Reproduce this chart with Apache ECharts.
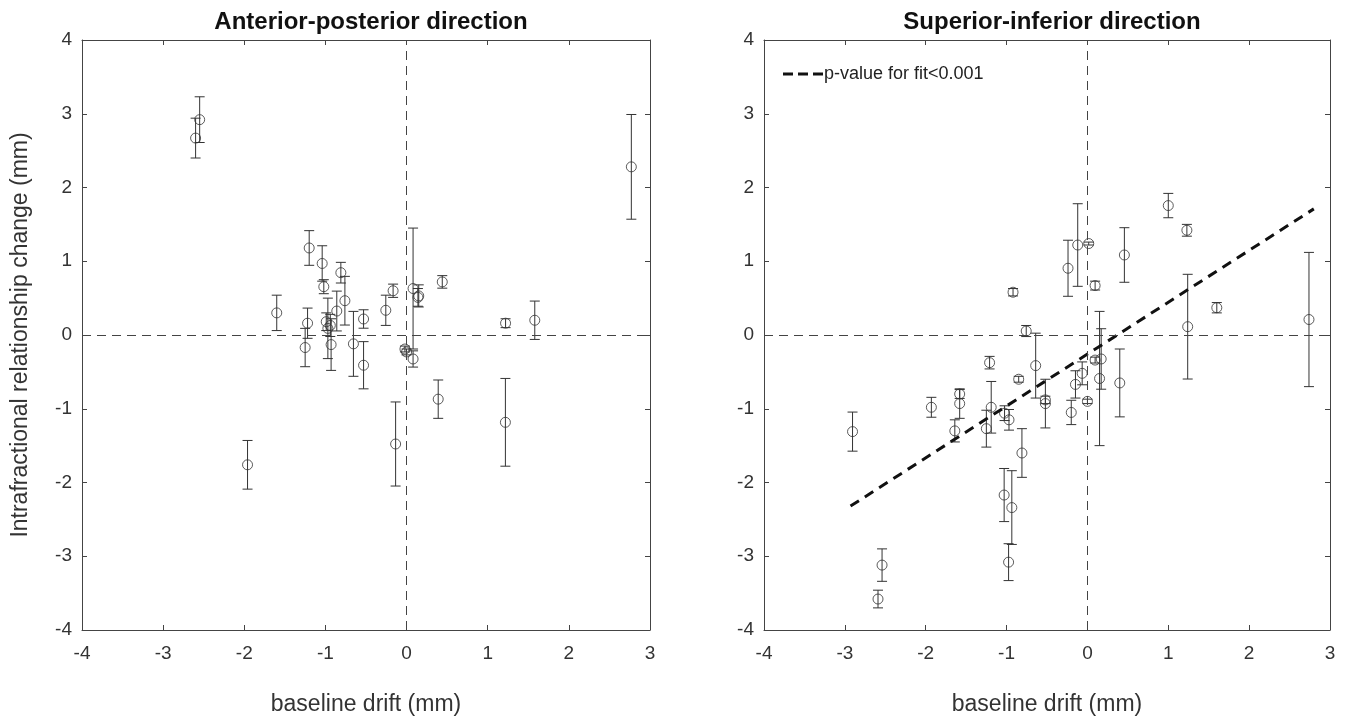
<!DOCTYPE html>
<html>
<head>
<meta charset="utf-8">
<script src="https://cdn.jsdelivr.net/npm/echarts@6/dist/echarts.min.js"></script>
<style>
  html, body { margin: 0; padding: 0; background: #fff; }
  #chart { width: 1351px; height: 725px; }
</style>
</head>
<body>
<div id="chart"></div>
<script>
// Anterior-posterior: baseline drift, relationship change, error
const apX = [-2.55, -2.60, -1.96, -1.60, -1.20, -1.04, -0.81, -1.02, -0.76, -0.86, -1.22, -1.25, -0.99, -0.97, -0.94, -0.93, -0.655, -0.53, -0.53, -0.256, -0.166, -0.135, 0.08, 0.15, 0.14, 0.44, -0.02, 0.0, 0.08, 0.39, 1.218, 1.22, 1.58, 2.77]
const apY = [2.92, 2.67, -1.76, 0.30, 1.18, 0.97, 0.845, 0.655, 0.465, 0.325, 0.16, -0.17, 0.18, 0.09, 0.13, -0.13, -0.12, 0.217, -0.41, 0.335, 0.60, -1.478, 0.63, 0.53, 0.51, 0.72, -0.19, -0.23, -0.325, -0.87, -1.184, 0.16, 0.20, 2.28]
const apErr = [0.31, 0.27, 0.33, 0.24, 0.235, 0.24, 0.14, 0.095, 0.33, 0.27, 0.205, 0.26, 0.12, 0.41, 0.15, 0.35, 0.44, 0.125, 0.32, 0.205, 0.09, 0.57, 0.82, 0.15, 0.12, 0.085, 0.04, 0.04, 0.11, 0.26, 0.595, 0.06, 0.26, 0.71]

// Superior-inferior
const siX = [-2.905, -2.54, -2.59, -1.93, -1.58, -1.58, -1.64, -1.25, -1.19, -1.21, -1.03, -0.935, -0.975, -1.025, -0.97, -0.92, -0.85, -0.81, -0.757, -0.64, -0.52, -0.52, -0.24, -0.2, -0.12, 0.016, 0.095, -0.148, -0.065, 0.0, 0.095, 0.17, 0.15, 0.40, 0.457, 1.0, 1.23, 1.24, 1.60, 2.74]
const siY = [-1.31, -3.12, -3.58, -0.98, -0.80, -0.93, -1.30, -1.27, -0.98, -0.375, -2.17, -2.34, -3.08, -1.06, -1.15, 0.58, -0.6, -1.6, 0.054, -0.415, -0.93, -0.88, 0.905, -1.05, 1.22, 1.24, 0.67, -0.67, -0.52, -0.9, -0.34, -0.325, -0.59, -0.65, 1.085, 1.755, 1.42, 0.113, 0.37, 0.21]
const siErr = [0.265, 0.22, 0.12, 0.135, 0.06, 0.2, 0.15, 0.25, 0.35, 0.085, 0.36, 0.5, 0.25, 0.1, 0.14, 0.05, 0.04, 0.33, 0.075, 0.44, 0.33, 0.05, 0.38, 0.165, 0.56, 0.02, 0.06, 0.185, 0.155, 0.03, 0.04, 0.41, 0.91, 0.46, 0.37, 0.165, 0.08, 0.71, 0.07, 0.91]

// linear fit (SI panel)
const fitX = [-2.93, 2.80]
const fitY = [-2.32, 1.71]

const axisColor = '#444'
const textColor = '#333'
const font = 'Liberation Sans, Arial, sans-serif'

const chart = echarts.init(document.getElementById('chart'))

function rows(xs, ys, es) {
  return xs.map((x, i) => [x, ys[i], es[i]])
}

function errorBars(params, api) {
  const x = api.value(0)
  const y = api.value(1)
  const e = api.value(2)
  const hi = api.coord([x, y + e])
  const lo = api.coord([x, y - e])
  const w = 5
  const style = { stroke: '#333', lineWidth: 1 }
  return {
    type: 'group',
    children: [
      { type: 'line', shape: { x1: hi[0], y1: hi[1], x2: lo[0], y2: lo[1] }, style },
      { type: 'line', shape: { x1: hi[0] - w, y1: hi[1], x2: hi[0] + w, y2: hi[1] }, style },
      { type: 'line', shape: { x1: lo[0] - w, y1: lo[1], x2: lo[0] + w, y2: lo[1] }, style }
    ]
  }
}

function xAx(grid, pos, labels, name) {
  return {
    gridIndex: grid,
    type: 'value',
    position: pos,
    min: -4,
    max: 3,
    interval: 1,
    name: name,
    nameLocation: 'middle',
    nameGap: 63,
    nameTextStyle: { color: textColor, fontSize: 23, fontFamily: font },
    axisLine: { show: true, onZero: false, lineStyle: { color: axisColor, width: 1 } },
    axisTick: { show: true, inside: true, length: 5, lineStyle: { color: axisColor } },
    axisLabel: { show: labels, color: textColor, fontSize: 19, fontFamily: font, margin: 14 },
    splitLine: { show: false }
  }
}

function yAx(grid, pos, labels, name) {
  return {
    gridIndex: grid,
    type: 'value',
    position: pos,
    min: -4,
    max: 4,
    interval: 1,
    name: name,
    nameLocation: 'middle',
    nameGap: 50,
    nameTextStyle: { color: textColor, fontSize: 23, fontFamily: font },
    axisLine: { show: true, onZero: false, lineStyle: { color: axisColor, width: 1 } },
    axisTick: { show: true, inside: true, length: 5, lineStyle: { color: axisColor } },
    axisLabel: { show: labels, color: textColor, fontSize: 19, fontFamily: font, margin: 10 },
    splitLine: { show: false }
  }
}

const refLines = {
  silent: true,
  symbol: 'none',
  label: { show: false },
  lineStyle: { color: '#444', width: 1, type: [9, 6] },
  data: [{ xAxis: 0 }, { yAxis: 0 }]
}

function circles(xi, yi, data) {
  return {
    type: 'scatter',
    xAxisIndex: xi,
    yAxisIndex: yi,
    symbol: 'circle',
    symbolSize: 10,
    itemStyle: { color: 'rgba(0,0,0,0)', borderColor: '#333', borderWidth: 1 },
    data: data,
    markLine: refLines,
    z: 3
  }
}

chart.setOption({
  animation: false,
  title: [
    {
      text: 'Anterior-posterior direction',
      left: 366,
      top: 5,
      textAlign: 'center',
      textStyle: { fontSize: 24, fontWeight: 'bold', color: '#111', fontFamily: font }
    },
    {
      text: 'Superior-inferior direction',
      left: 1047,
      top: 5,
      textAlign: 'center',
      textStyle: { fontSize: 24, fontWeight: 'bold', color: '#111', fontFamily: font }
    }
  ],
  legend: {
    left: 778,
    top: 60,
    itemWidth: 40,
    itemHeight: 3,
    textStyle: { color: '#222', fontSize: 18, fontFamily: font, padding: [0, 0, 0, -4] },
    data: [{
      name: 'p-value for fit<0.001',
      icon: 'path://M0 0H10V3H0Z M15 0H25V3H15Z M30 0H40V3H30Z'
    }]
  },
  grid: [
    { left: 82, top: 40, width: 568, height: 590 },
    { left: 764, top: 40, width: 566, height: 590 }
  ],
  xAxis: [
    xAx(0, 'bottom', true, 'baseline drift (mm)'),
    xAx(0, 'top', false, ''),
    xAx(1, 'bottom', true, 'baseline drift (mm)'),
    xAx(1, 'top', false, '')
  ],
  yAxis: [
    yAx(0, 'left', true, 'Intrafractional relationship change (mm)'),
    yAx(0, 'right', false, ''),
    yAx(1, 'left', true, ''),
    yAx(1, 'right', false, '')
  ],
  series: [
    {
      type: 'custom',
      xAxisIndex: 0,
      yAxisIndex: 0,
      renderItem: errorBars,
      encode: { x: 0, y: 1 },
      data: rows(apX, apY, apErr),
      z: 2
    },
    circles(0, 0, rows(apX, apY, apErr)),
    {
      type: 'custom',
      xAxisIndex: 2,
      yAxisIndex: 2,
      renderItem: errorBars,
      encode: { x: 0, y: 1 },
      data: rows(siX, siY, siErr),
      z: 2
    },
    circles(2, 2, rows(siX, siY, siErr)),
    {
      name: 'p-value for fit<0.001',
      type: 'line',
      xAxisIndex: 2,
      yAxisIndex: 2,
      symbol: 'none',
      data: fitX.map((x, i) => [x, fitY[i]]),
      lineStyle: { color: '#111', width: 3, type: [10, 7] },
      itemStyle: { color: '#111' },
      z: 4
    }
  ]
})
</script>
</body>
</html>
